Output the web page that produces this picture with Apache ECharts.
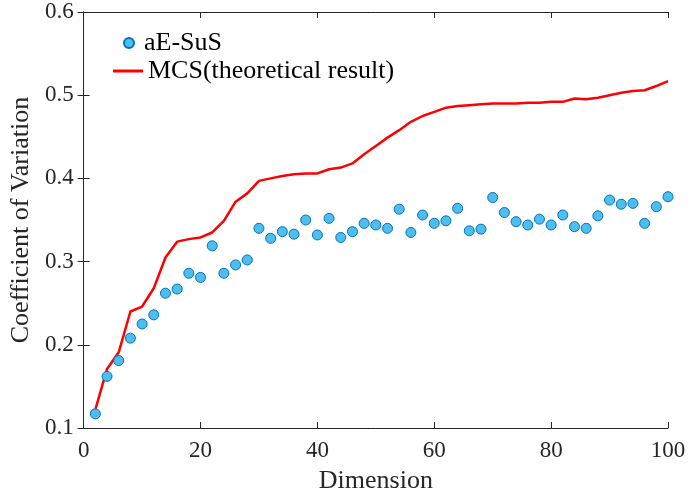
<!DOCTYPE html>
<html>
<head>
<meta charset="utf-8">
<script src="https://cdn.jsdelivr.net/npm/echarts@6/dist/echarts.min.js"></script>
<style>
  html, body { margin: 0; padding: 0; background: #fff; }
  #chart { width: 690px; height: 500px; }
</style>
</head>
<body>
<div id="chart"></div>
<script>
const dims = [2, 4, 6, 8, 10, 12, 14, 16, 18, 20, 22, 24, 26, 28, 30, 32, 34, 36, 38, 40,
  42, 44, 46, 48, 50, 52, 54, 56, 58, 60, 62, 64, 66, 68, 70, 72, 74, 76, 78, 80,
  82, 84, 86, 88, 90, 92, 94, 96, 98, 100]

// aE-SuS estimates (scatter)
const susCov = [0.117, 0.162, 0.181, 0.208, 0.225, 0.236, 0.262, 0.267, 0.286, 0.281,
  0.319, 0.286, 0.296, 0.302, 0.340, 0.328, 0.336, 0.333, 0.350, 0.332,
  0.352, 0.329, 0.336, 0.346, 0.344, 0.340, 0.363, 0.335, 0.356, 0.346,
  0.349, 0.364, 0.337, 0.339, 0.377, 0.359, 0.348, 0.344, 0.351, 0.344,
  0.356, 0.342, 0.340, 0.355, 0.374, 0.369, 0.370, 0.346, 0.366, 0.378]

// MCS theoretical result (line)
const mcsCov = [0.122, 0.171, 0.191, 0.240, 0.246, 0.268, 0.305, 0.324, 0.327, 0.329,
  0.335, 0.349, 0.372, 0.382, 0.397, 0.400, 0.403, 0.405, 0.406, 0.406,
  0.411, 0.413, 0.418, 0.429, 0.439, 0.449, 0.458, 0.468, 0.475, 0.480,
  0.485, 0.487, 0.488, 0.489, 0.490, 0.490, 0.490, 0.491, 0.491, 0.492,
  0.492, 0.496, 0.495, 0.497, 0.500, 0.503, 0.505, 0.506, 0.511, 0.517]

const FONT = '"Liberation Serif", "DejaVu Serif", serif'
const AXIS_COLOR = '#262626'

const chart = echarts.init(document.getElementById('chart'))

const frameAxis = {
  axisLine: { show: true, lineStyle: { color: AXIS_COLOR, width: 1 } },
  axisTick: { show: true, inside: true, length: 6, lineStyle: { color: AXIS_COLOR } },
  splitLine: { show: false }
}

chart.setOption({
  animation: false,
  backgroundColor: '#fff',
  grid: { left: 82, right: 22, top: 12, bottom: 72 },
  legend: [
    {
      data: [{ name: 'aE-SuS', icon: 'circle' }],
      left: 118, top: 25,
      itemWidth: 10, itemHeight: 10,
      textStyle: { fontFamily: FONT, fontSize: 26, color: '#000', padding: [0, 0, 0, 5] }
    },
    {
      data: [{ name: 'MCS(theoretical result)', icon: 'rect' }],
      left: 108, top: 53,
      itemWidth: 30, itemHeight: 3,
      textStyle: { fontFamily: FONT, fontSize: 26, color: '#000' }
    }
  ],
  xAxis: [
    {
      ...frameAxis,
      type: 'value', position: 'bottom',
      min: 0, max: 100, interval: 20,
      name: 'Dimension', nameLocation: 'middle', nameGap: 40,
      nameTextStyle: { fontFamily: FONT, fontSize: 26, color: '#262626' },
      axisLabel: { fontFamily: FONT, fontSize: 23, color: '#262626', margin: 11 }
    },
    {
      ...frameAxis,
      type: 'value', position: 'top',
      min: 0, max: 100, interval: 20,
      axisLabel: { show: false }
    }
  ],
  yAxis: [
    {
      ...frameAxis,
      type: 'value', position: 'left',
      min: 0.1, max: 0.6, interval: 0.1,
      name: 'Coefficient of Variation', nameLocation: 'middle', nameGap: 46,
      nameTextStyle: { fontFamily: FONT, fontSize: 26, color: '#262626' },
      axisLabel: {
        fontFamily: FONT, fontSize: 23, color: '#262626', margin: 10,
        formatter: v => v.toFixed(1)
      }
    },
    {
      ...frameAxis,
      type: 'value', position: 'right',
      min: 0.1, max: 0.6, interval: 0.1,
      axisLabel: { show: false }
    }
  ],
  series: [
    {
      name: 'MCS(theoretical result)',
      type: 'line',
      data: dims.map((d, i) => [d, mcsCov[i]]),
      showSymbol: false,
      lineStyle: { color: '#ff0000', width: 2.5 },
      itemStyle: { color: '#ff0000' },
      z: 2
    },
    {
      name: 'aE-SuS',
      type: 'scatter',
      data: dims.map((d, i) => [d, susCov[i]]),
      symbolSize: 10,
      itemStyle: { color: '#4DBEEE', borderColor: '#0072BD', borderWidth: 1, opacity: 1 },
      z: 3
    }
  ]
})
</script>
</body>
</html>
